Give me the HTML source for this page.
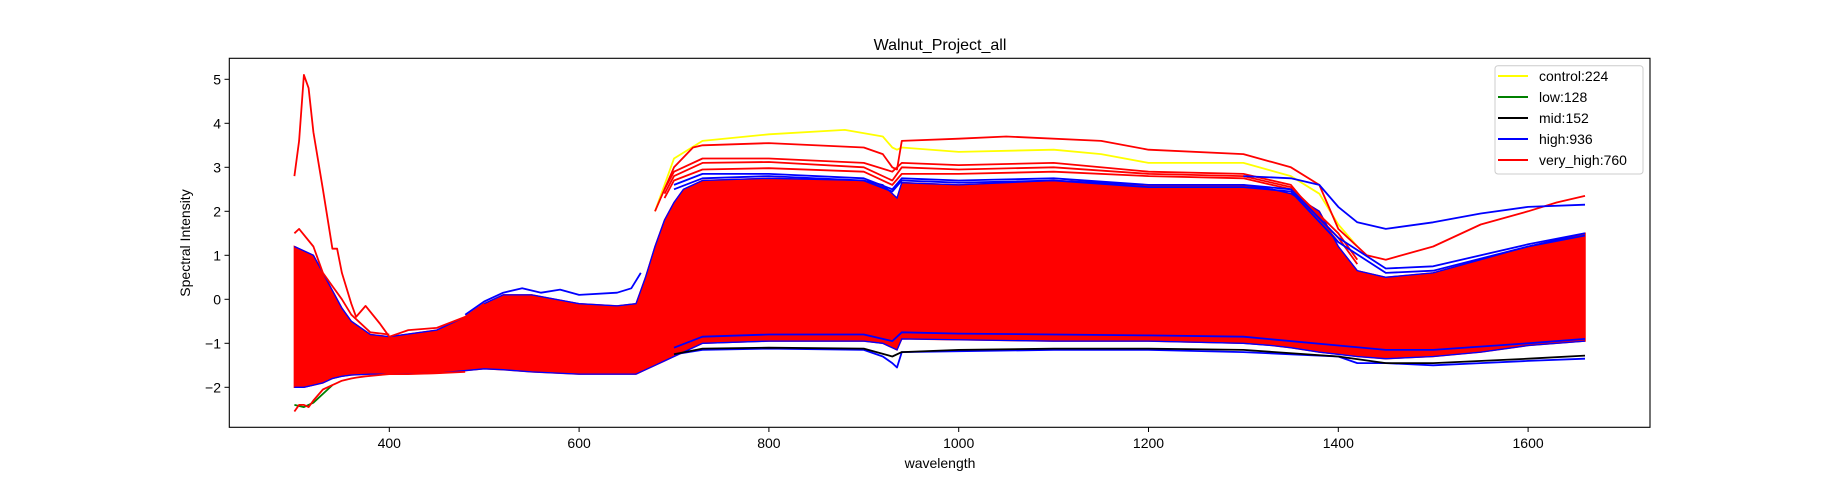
<!DOCTYPE html>
<html><head><meta charset="utf-8"><style>
body{margin:0;background:#fff}
svg{display:block;font-family:"Liberation Sans","DejaVu Sans",sans-serif}
</style></head><body>
<svg id="chart" width="1832" height="480" viewBox="0 0 1832 480">
<rect width="1832" height="480" fill="#fff"/>
<g id="plot"></g>
<rect x="229.3" y="58.3" width="1420.7" height="369" fill="none" stroke="#000" stroke-width="1.1"/>
<g id="xticks"></g>
<g id="yticks"></g>
<text x="940" y="50" font-size="16" text-anchor="middle">Walnut_Project_all</text>
<text x="940" y="468" font-size="14" text-anchor="middle">wavelength</text>
<text transform="translate(190,243) rotate(-90)" font-size="14" text-anchor="middle">Spectral Intensity</text>
<g>
<rect x="1495" y="65.7" width="148" height="108.3" rx="3" fill="#fff" stroke="#ccc"/>
<g id="legend"></g>
</g>
</svg>
<script>
const bandW=[300,310,320,330,340,350,360,380,400,450,480,500,520,550,600,640,660,670,680,690,700,710,730,800,900,920,930,935,940,1000,1100,1200,1300,1330,1350,1380,1400,1420,1450,1500,1550,1600,1660];
const bandTop=[1.2,1.1,1.0,0.6,0.2,-0.2,-0.5,-0.8,-0.85,-0.7,-0.4,-0.1,0.1,0.1,-0.1,-0.15,-0.1,0.5,1.2,1.8,2.2,2.5,2.7,2.75,2.7,2.6,2.4,2.3,2.65,2.6,2.7,2.6,2.6,2.5,2.4,2.0,1.2,0.65,0.5,0.6,0.9,1.2,1.5];
const bandBot=[-2.0,-2.0,-1.95,-1.9,-1.8,-1.75,-1.72,-1.7,-1.7,-1.68,-1.62,-1.58,-1.6,-1.65,-1.7,-1.7,-1.7,-1.6,-1.5,-1.4,-1.3,-1.2,-1.0,-0.95,-0.95,-1.0,-1.1,-1.15,-0.9,-0.92,-0.95,-0.95,-1.0,-1.05,-1.1,-1.2,-1.25,-1.3,-1.35,-1.3,-1.2,-1.05,-0.95];
const series=[
 {c:"blue",w:[700,730,800,900,920,930,935,940,1000,1100,1200,1300,1350,1400,1420,1450,1500,1550,1600,1660],v:[-1.25,-1.15,-1.12,-1.15,-1.3,-1.45,-1.55,-1.2,-1.18,-1.15,-1.15,-1.2,-1.25,-1.3,-1.45,-1.45,-1.5,-1.45,-1.4,-1.35]},
 {c:"black",w:[700,730,800,900,930,940,1000,1100,1200,1300,1400,1450,1500,1600,1660],v:[-1.25,-1.12,-1.1,-1.12,-1.3,-1.2,-1.15,-1.12,-1.12,-1.15,-1.3,-1.45,-1.45,-1.35,-1.28]},
 {c:"green",w:[300,310,320,340],v:[-2.4,-2.45,-2.35,-1.95]},
 {c:"red",w:[300,305,310,315,320,330,340,345,350,360,365,375,390,400,420,450,480],v:[-2.55,-2.4,-2.4,-2.45,-2.3,-2.05,-1.95,-1.9,-1.85,-1.8,-1.78,-1.75,-1.72,-1.7,-1.7,-1.68,-1.65]},
 {c:"red",w:[300,305,310,315,320,330,340,345,350,360,365,375,390,400,420,450,480,500],v:[2.8,3.6,5.1,4.8,3.8,2.5,1.15,1.15,0.6,-0.1,-0.4,-0.15,-0.55,-0.85,-0.7,-0.65,-0.4,-0.1]},
 {c:"red",w:[300,305,320,330,340,350,360,380,400],v:[1.5,1.6,1.2,0.6,0.3,0.0,-0.35,-0.75,-0.8]},
 {c:"blue",w:[480,500,520,540,560,580,600,640,655,665],v:[-0.35,-0.05,0.15,0.25,0.15,0.22,0.1,0.15,0.25,0.6]},
 {c:"yellow",w:[680,700,730,800,880,920,930,935,940,1000,1100,1150,1200,1250,1300,1350,1380,1400,1420],v:[2.0,3.2,3.6,3.75,3.85,3.7,3.45,3.4,3.45,3.35,3.4,3.3,3.1,3.1,3.1,2.8,2.4,1.7,1.2]},
 {c:"red",w:[680,700,720,730,800,900,920,930,935,940,1000,1050,1150,1200,1300,1350,1380,1400,1430,1450,1500,1550,1600,1630,1660],v:[2.0,3.0,3.45,3.5,3.55,3.45,3.3,3.0,2.95,3.6,3.65,3.7,3.6,3.4,3.3,3.0,2.6,1.6,1.0,0.9,1.2,1.7,2.0,2.2,2.35]},
 {c:"red",w:[690,700,730,800,900,930,940,1000,1100,1200,1300,1350,1400],v:[2.5,2.9,3.2,3.2,3.1,2.9,3.1,3.05,3.1,2.9,2.85,2.6,1.3]},
 {c:"red",w:[690,700,730,800,900,930,940,1000,1100,1200,1300,1350,1400,1420],v:[2.4,2.8,3.1,3.12,3.0,2.7,3.0,2.95,3.0,2.85,2.8,2.55,1.5,0.9]},
 {c:"red",w:[690,700,730,800,900,930,940,1000,1100,1200,1300,1350,1400,1420],v:[2.3,2.7,2.95,2.98,2.9,2.6,2.85,2.85,2.9,2.8,2.75,2.5,1.4,0.8]},
 {c:"blue",w:[1300,1350,1380,1400,1420,1450,1500,1550,1600,1660],v:[2.8,2.75,2.6,2.1,1.75,1.6,1.75,1.95,2.1,2.15]},
 {c:"blue",w:[700,730,800,900,930,940,1000,1100,1200,1300,1350,1400,1450,1500,1600,1660],v:[2.6,2.85,2.85,2.75,2.5,2.75,2.7,2.75,2.6,2.6,2.5,1.4,0.7,0.75,1.25,1.5]},
 {c:"blue",w:[700,730,800,900,930,940,1000,1100,1200,1300,1350,1400,1450,1500,1600,1660],v:[2.5,2.75,2.8,2.7,2.45,2.7,2.65,2.7,2.55,2.55,2.45,1.3,0.6,0.65,1.2,1.45]},
 {c:"blue",w:[700,730,800,900,930,940,1000,1100,1200,1300,1400,1450,1500,1600,1660],v:[-1.1,-0.85,-0.8,-0.8,-0.95,-0.75,-0.78,-0.8,-0.82,-0.85,-1.05,-1.15,-1.15,-1.0,-0.9]}
];
const xTicks=[400,600,800,1000,1200,1400,1600];
const yTicks=[-2,-1,0,1,2,3,4,5];
const legendLabels=["control:224","low:128","mid:152","high:936","very_high:760"];
const legendColors=["yellow","green","black","blue","red"];

const NS="http://www.w3.org/2000/svg";
const X=w=>229.3+(w-231.4)*0.949;
const Y=v=>299.3-v*44;
const plot=document.getElementById('plot');
function mk(tag,attrs,parent){const e=document.createElementNS(NS,tag);for(const k in attrs)e.setAttribute(k,attrs[k]);parent.appendChild(e);return e;}
let d="";
bandW.forEach((w,i)=>{d+=(i?"L":"M")+X(w).toFixed(1)+","+Y(bandTop[i]).toFixed(1);});
for(let i=bandW.length-1;i>=0;i--)d+="L"+X(bandW[i]).toFixed(1)+","+Y(bandBot[i]).toFixed(1);
d+="Z";
const band=mk('path',{d:d,fill:"red",stroke:"red","stroke-width":1.5},plot);


const edge1=mk('path',{d:bandW.map((w,i)=>(i?"L":"M")+X(w)+","+Y(bandTop[i])).join(""),fill:"none",stroke:"blue","stroke-width":1.3},plot);


const edge2=mk('path',{d:bandW.map((w,i)=>(i?"L":"M")+X(w)+","+Y(bandBot[i])).join(""),fill:"none",stroke:"blue","stroke-width":1.3},plot);


series.forEach((s,k)=>{
 const p=mk('path',{d:s.w.map((w,i)=>(i?"L":"M")+X(w).toFixed(1)+","+Y(s.v[i]).toFixed(1)).join(""),fill:"none",stroke:s.c,"stroke-width":1.8,"stroke-linejoin":"round"},plot);
 
 
});
const xg=document.getElementById('xticks');
xTicks.forEach(t=>{
 const l=mk('line',{x1:X(t),x2:X(t),y1:427.3,y2:432,stroke:"#000"},xg);
 
 
 const tx=mk('text',{x:X(t),y:448,"font-size":14,"text-anchor":"middle"},xg);tx.textContent=t;
 
 
});
const yg=document.getElementById('yticks');
yTicks.forEach(t=>{
 const l=mk('line',{x1:224.5,x2:229.3,y1:Y(t),y2:Y(t),stroke:"#000"},yg);
 
 
 const tx=mk('text',{x:221,y:Y(t)+5,"font-size":14,"text-anchor":"end"},yg);tx.textContent=(t<0?"\u2212"+(-t):t);
 
 
});
const lg=document.getElementById('legend');
legendLabels.forEach((lab,i)=>{
 const y=76+i*21;
 const l=mk('line',{x1:1498,x2:1528,y1:y,y2:y,stroke:legendColors[i],"stroke-width":2},lg);
 
 
 const t=mk('text',{x:1539,y:y+5,"font-size":14},lg);t.textContent=lab;
 
 
});
</script>
</body></html>
